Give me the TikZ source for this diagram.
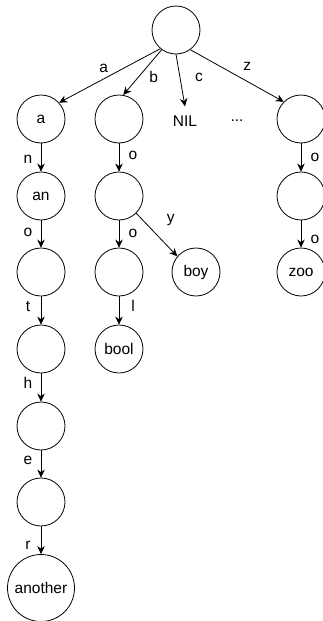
\documentclass[tikz,border=0pt]{standalone}
\usepackage{fontspec}
\setmainfont{Liberation Sans}
\usepackage{tikz}
\usetikzlibrary{arrows.meta,positioning}
\tikzset{
  trie/.style={circle,draw,line width=0.8pt,minimum size=48pt,inner sep=0pt,font=\fontsize{15.5}{18}\selectfont},
  leaf/.style={inner xsep=2pt,inner ysep=9pt,font=\fontsize{15.5}{18}\selectfont},
  link/.style={line width=0.8pt,-{Stealth[length=8pt,width=7.5pt,inset=2.5pt]}},
  lbl/.style={inner sep=0pt,font=\fontsize{15.5}{18}\selectfont}
}
\begin{document}
\begin{tikzpicture}[x=1pt,y=-1pt]
\useasboundingbox (0,0) rectangle (322,621);
% root and first level
\node[trie] (root) at (176,30) {};
\node[trie] (a) at (41,119) {a};
\node[trie] (b) at (119,119) {};
\node[leaf] (nil) at (185,121) {NIL};
\node[leaf] (dots) at (237,121) {...};
\node[trie] (z) at (301,119) {};
% the "another" chain
\node[trie] (an) at (41,196) {an};
\node[trie] (ano) at (41,272) {};
\node[trie] (anot) at (41,349) {};
\node[trie] (anoth) at (41,426) {};
\node[trie] (anothe) at (41,502) {};
\node[trie,minimum size=67pt] (another) at (41,588) {another};
% the "b" branch
\node[trie] (bo) at (119,196) {};
\node[trie] (boo) at (119,272) {};
\node[trie] (boy) at (196,272) {boy};
\node[trie] (bool) at (119,349) {bool};
% the "z" branch
\node[trie] (zo) at (301,196) {};
\node[trie] (zoo) at (301,272) {zoo};

\draw[link] (root.230) -- node[lbl,pos=0.56,yshift=11pt] {a} (a.42);
\draw[link] (root.234) -- node[lbl,pos=0.6,xshift=15pt] {b} (b.80);
\draw[link] (root.south) -- node[lbl,pos=0.45,xshift=19pt] {c} (nil.north);
\draw[link] (root.-54) -- node[lbl,pos=0.61,yshift=15pt] {z} (z.135);
\draw[link] (bo.-45) -- node[lbl,pos=0.5,xshift=14pt,yshift=15pt] {y} (boy.140);

\foreach \from/\to/\lab/\p in {a/an/n/0.55,an/ano/o/0.43,ano/anot/t/0.36,
    anot/anoth/h/0.34,anoth/anothe/e/0.36,anothe/another/r/0.69}{
  \draw[link] (\from) -- node[lbl,pos=\p,xshift=-13pt] {\lab} (\to);
}
\foreach \from/\to/\lab/\p in {b/bo/o/0.41,bo/boo/o/0.46,boo/bool/l/0.34,
    z/zo/o/0.48,zo/zoo/o/0.71}{
  \draw[link] (\from) -- node[lbl,pos=\p,xshift=14pt] {\lab} (\to);
}
\end{tikzpicture}
\end{document}
